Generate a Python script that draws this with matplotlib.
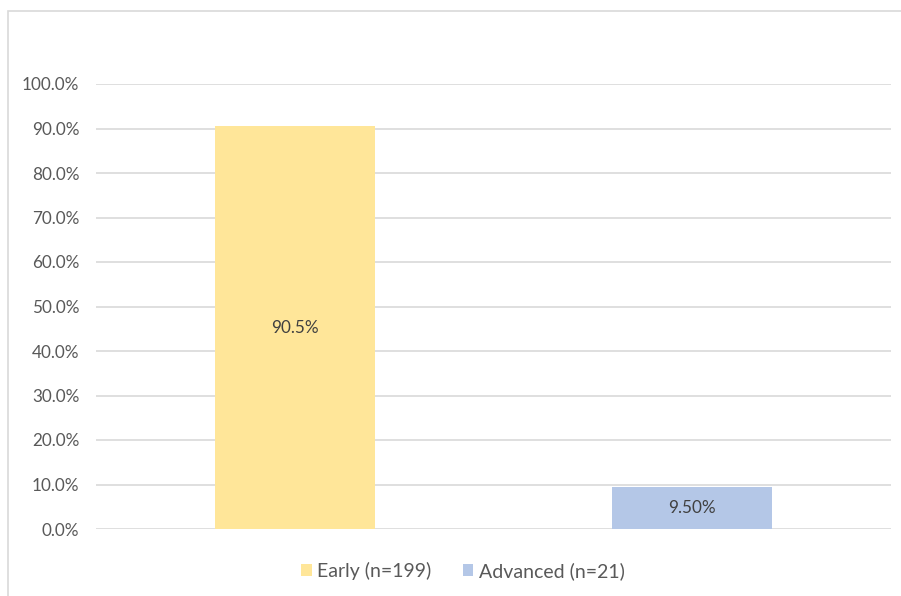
import matplotlib
matplotlib.use("Agg")
import matplotlib.pyplot as plt
from matplotlib.patches import Rectangle, Patch
from matplotlib.ticker import FuncFormatter

categories = ["Early (n=199)", "Advanced (n=21)"]
values = [0.905, 0.095]
value_labels = ["90.5%", "9.50%"]
colors = ["#FFE699", "#B4C7E7"]
yticks = [i / 10 for i in range(11)]

W, H = 901, 596
fig = plt.figure(figsize=(W / 100, H / 100), dpi=100)
plt.rcParams['font.family'] = ['Lato', 'DejaVu Sans']

# chart border (only top and left visible)
fig.patches.append(Rectangle((8 / W, -0.1), 1.2, 1 - 11 / H + 0.1, transform=fig.transFigure,
                             fill=False, edgecolor="#D9D9D9", linewidth=1.2))

ax = fig.add_axes([96 / W, 1 - 529 / H, (891 - 96) / W, (529 - 84) / H])
x = list(range(len(categories)))
bars = ax.bar(x, values, width=0.403, color=colors, zorder=3)
for b, lab in zip(bars, value_labels):
    ax.text(b.get_x() + b.get_width() / 2, b.get_height() / 2, lab,
            ha="center", va="center", fontsize=12.3, color="#404040", zorder=4)

ax.set_xlim(-0.5, 1.5)
ax.set_ylim(0, 1.0)
ax.set_yticks(yticks)
ax.yaxis.set_major_formatter(FuncFormatter(lambda v, p: f"{v*100:.1f}%"))
ax.set_xticks([])
ax.tick_params(axis="y", length=0, pad=12, labelsize=12.3, labelcolor="#595959")
ax.grid(axis="y", color="#D9D9D9", linewidth=1.2, zorder=0)
for s in ["top", "right", "left", "bottom"]:
    ax.spines[s].set_visible(False)

handles = [Patch(facecolor=c, edgecolor="none") for c in colors]
fig.legend(handles, categories, loc="center", bbox_to_anchor=(463 / W, 1 - 571 / H),
           ncol=2, frameon=False, fontsize=14, labelcolor="#595959",
           handlelength=0.55, handleheight=0.55, handletextpad=0.3, columnspacing=1.6)

fig.savefig("out.png", dpi=100)
